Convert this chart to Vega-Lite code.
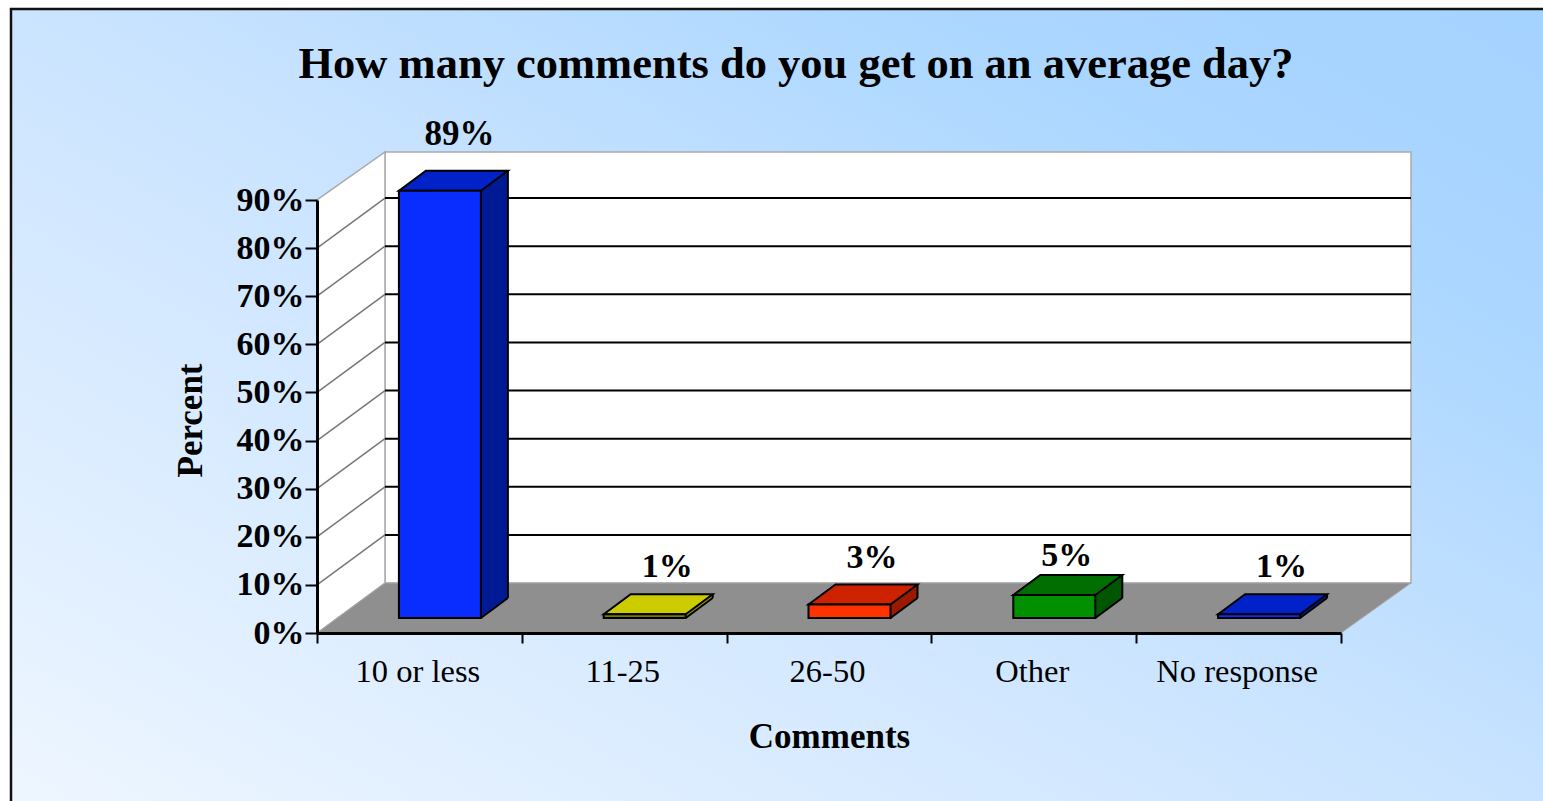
{
"$schema":"https://vega.github.io/schema/vega-lite/v6.json",
"width":1024,"height":433,"autosize":{"type":"none"},
"padding":{"left":317,"top":200,"right":202,"bottom":168},
"background":"white",
"title":{"text":"How many comments do you get on an average day?","font":"Liberation Serif","fontWeight":"bold","fontSize":44.5,"color":"black","anchor":"middle","dx":-33,"offset":-118,"baseline":"alphabetic","zindex":1},
"config":{"view":{"stroke":null},"font":"Liberation Serif"},
"datasets":{
"bars":[{"category":"10 or less","percent":89,"label":"89%"},{"category":"11-25","percent":1,"label":"1%"},{"category":"26-50","percent":3,"label":"3%"},{"category":"Other","percent":5,"label":"5%"},{"category":"No response","percent":1,"label":"1%"}],
"grid":[{"level":10},{"level":20},{"level":30},{"level":40},{"level":50},{"level":60},{"level":70},{"level":80}]
},
"resolve":{"scale":{"fill":"independent"},"axis":{"x":"independent","y":"independent"}},
"layer":[
{"data":{"name":"bars"},
 "mark":{"type":"bar","opacity":0},
 "encoding":{"x":{"field":"category","type":"nominal","sort":null,"title":"Comments","scale":{"type":"band","domain":["10 or less","11-25","26-50","Other","No response"],"paddingInner":0,"paddingOuter":0},
   "axis":{"zindex":1,"tickBand":"extent","labelAngle":0,"labelFont":"Liberation Serif","labelFontSize":32.5,"labelColor":"black","labelPadding":12,"labelOffset":-2,"tickColor":"black","tickWidth":2,"tickSize":10,"domainColor":"black","domainWidth":3,"titleFont":"Liberation Serif","titleFontSize":35,"titleFontWeight":"bold","titleColor":"black","titlePadding":32}},
  "y":{"field":"percent","type":"quantitative","title":"Percent","scale":{"domain":[0,90],"nice":false},
   "axis":{"zindex":1,"values":[0,10,20,30,40,50,60,70,80,90],"labelExpr":"datum.value+'%'","grid":false,"labelFont":"Liberation Serif","labelFontSize":34,"labelFontWeight":"bold","labelColor":"black","labelPadding":1,"tickColor":"black","tickWidth":2,"tickSize":12,"domainColor":"black","domainWidth":3,"titleFont":"Liberation Serif","titleFontSize":35,"titleFontWeight":"bold","titleColor":"black","titlePadding":28,"titleY":220}}}},
{"data":{"values":[{"k":1}]},
 "mark":{"type":"point","filled":true,"opacity":1,"size":4,"shape":"M-306,-191 H1300 V700 H-306 Z","stroke":"#111","strokeWidth":2.5,"fill":{"gradient":"linear","x1":0,"y1":1,"x2":1,"y2":0,"stops":[{"offset":0,"color":"#f2f8ff"},{"offset":0.5,"color":"#cbe4ff"},{"offset":0.8,"color":"#aad6ff"},{"offset":1,"color":"#a4d2ff"}]}},
 "encoding":{"x":{"datum":"10 or less","type":"nominal","bandPosition":0,"axis":null},"y":{"datum":90,"type":"quantitative","axis":null}}},
{"data":{"values":[{"k":1}]},
 "mark":{"type":"point","filled":true,"opacity":1,"size":4,"shape":"M68,-50 H1094 V-481 H68 Z","fill":"white","stroke":"#aaaaaa","strokeWidth":1.5},
 "encoding":{"x":{"datum":"10 or less","type":"nominal","bandPosition":0,"axis":null},"y":{"datum":0,"type":"quantitative","axis":null}}},
{"data":{"values":[{"k":1}]},
 "mark":{"type":"point","filled":true,"opacity":1,"size":4,"shape":"M0,0 L68,-50 V-481 L0,-433 Z","fill":"white","stroke":"#aaaaaa","strokeWidth":1.5},
 "encoding":{"x":{"datum":"10 or less","type":"nominal","bandPosition":0,"axis":null},"y":{"datum":0,"type":"quantitative","axis":null}}},
{"data":{"values":[{"k":1}]},
 "mark":{"type":"point","filled":true,"opacity":1,"size":4,"shape":"M0,0 L68,-50 H1094 L1024,0 Z","fill":"#8f8f8f","stroke":"#aaaaaa","strokeWidth":1},
 "encoding":{"x":{"datum":"10 or less","type":"nominal","bandPosition":0,"axis":null},"y":{"datum":0,"type":"quantitative","axis":null}}},
{"data":{"name":"grid"},
 "mark":{"type":"point","filled":false,"opacity":1,"size":4,"shape":"M0,0 L68,-50","stroke":"#777777","strokeWidth":1.5},
 "encoding":{"x":{"datum":"10 or less","type":"nominal","bandPosition":0,"axis":null},"y":{"field":"level","type":"quantitative","axis":null}}},
{"data":{"name":"grid"},
 "mark":{"type":"point","filled":false,"opacity":1,"size":4,"shape":"M68,-50 H1094","stroke":"black","strokeWidth":2},
 "encoding":{"x":{"datum":"10 or less","type":"nominal","bandPosition":0,"axis":null},"y":{"field":"level","type":"quantitative","axis":null}}},
{"data":{"name":"bars"},
 "mark":{"type":"bar","size":27,"xOffset":75,"yOffset":-34,"y2Offset":-35},
 "encoding":{"x":{"field":"category","type":"nominal","axis":null},"y":{"field":"percent","type":"quantitative","axis":null},"y2":{"datum":0},
  "fill":{"field":"category","type":"nominal","legend":null,"sort":null,"scale":{"domain":["10 or less","11-25","26-50","Other","No response"],"range":["#001a96","#999900","#991a00","#005500","#001a96"]}}}},
{"data":{"name":"bars"},
 "mark":{"type":"point","filled":true,"opacity":1,"size":4,"shape":"M40.5,-20 H67.5 L40.5,0 Z","xOffset":21,"yOffset":-15},
 "encoding":{"x":{"field":"category","type":"nominal","axis":null},"y":{"datum":0,"type":"quantitative","axis":null},
  "fill":{"field":"category","type":"nominal","legend":null,"sort":null,"scale":{"domain":["10 or less","11-25","26-50","Other","No response"],"range":["#001a96","#999900","#991a00","#005500","#001a96"]}}}},
{"data":{"name":"bars"},
 "mark":{"type":"point","filled":false,"opacity":1,"size":4,"shape":"M67.5,-20 L40.5,0","xOffset":21,"yOffset":-15,"stroke":"black","strokeWidth":2},
 "encoding":{"x":{"field":"category","type":"nominal","axis":null},"y":{"datum":0,"type":"quantitative","axis":null}}},
{"data":{"name":"bars"},
 "mark":{"type":"rule","color":"black","strokeWidth":2,"xOffset":88.5,"yOffset":-34,"y2Offset":-35},
 "encoding":{"x":{"field":"category","type":"nominal","axis":null},"y":{"field":"percent","type":"quantitative","axis":null},"y2":{"datum":0}}},
{"data":{"name":"bars"},
 "mark":{"type":"point","filled":true,"opacity":1,"size":4,"shape":"M-41.5,0 L-14.5,-20 H67.5 L40.5,0 Z","xOffset":21,"yOffset":-14,"stroke":"black","strokeWidth":2},
 "encoding":{"x":{"field":"category","type":"nominal","axis":null},"y":{"field":"percent","type":"quantitative","axis":null},
  "fill":{"field":"category","type":"nominal","legend":null,"sort":null,"scale":{"domain":["10 or less","11-25","26-50","Other","No response"],"range":["#0022c8","#cccc00","#cc2200","#006e00","#0022c8"]}}}},
{"data":{"name":"bars"},
 "mark":{"type":"bar","size":82,"xOffset":20.5,"yOffset":-14,"y2Offset":-15,"stroke":"black","strokeWidth":2},
 "encoding":{"x":{"field":"category","type":"nominal","axis":null},
  "y":{"field":"percent","type":"quantitative","axis":null},
  "y2":{"datum":0},
  "fill":{"field":"category","type":"nominal","legend":null,"sort":null,"scale":{"domain":["10 or less","11-25","26-50","Other","No response"],"range":["#0a2dff","#7a7a00","#ff3300","#009000","#0a2dff"]}}}},
{"data":{"name":"bars"},
 "transform":[{"filter":"datum.percent != 89 && datum.percent != 5"}],
 "mark":{"type":"text","font":"Liberation Serif","fontWeight":"bold","fontSize":34,"color":"black","dx":43,"dy":-51,"baseline":"alphabetic"},
 "encoding":{"x":{"field":"category","type":"nominal","axis":null},"y":{"field":"percent","type":"quantitative","axis":null},"text":{"field":"label","type":"nominal"}}},
{"data":{"name":"bars"},
 "transform":[{"filter":"datum.percent == 89"}],
 "mark":{"type":"text","font":"Liberation Serif","fontWeight":"bold","fontSize":35,"color":"black","dx":40,"dy":-60,"baseline":"alphabetic"},
 "encoding":{"x":{"field":"category","type":"nominal","axis":null},"y":{"field":"percent","type":"quantitative","axis":null},"text":{"field":"label","type":"nominal"}}},
{"data":{"name":"bars"},
 "transform":[{"filter":"datum.percent == 5"}],
 "mark":{"type":"text","font":"Liberation Serif","fontWeight":"bold","fontSize":34,"color":"black","dx":33,"dy":-43,"baseline":"alphabetic"},
 "encoding":{"x":{"field":"category","type":"nominal","axis":null},"y":{"field":"percent","type":"quantitative","axis":null},"text":{"field":"label","type":"nominal"}}}
]
}
